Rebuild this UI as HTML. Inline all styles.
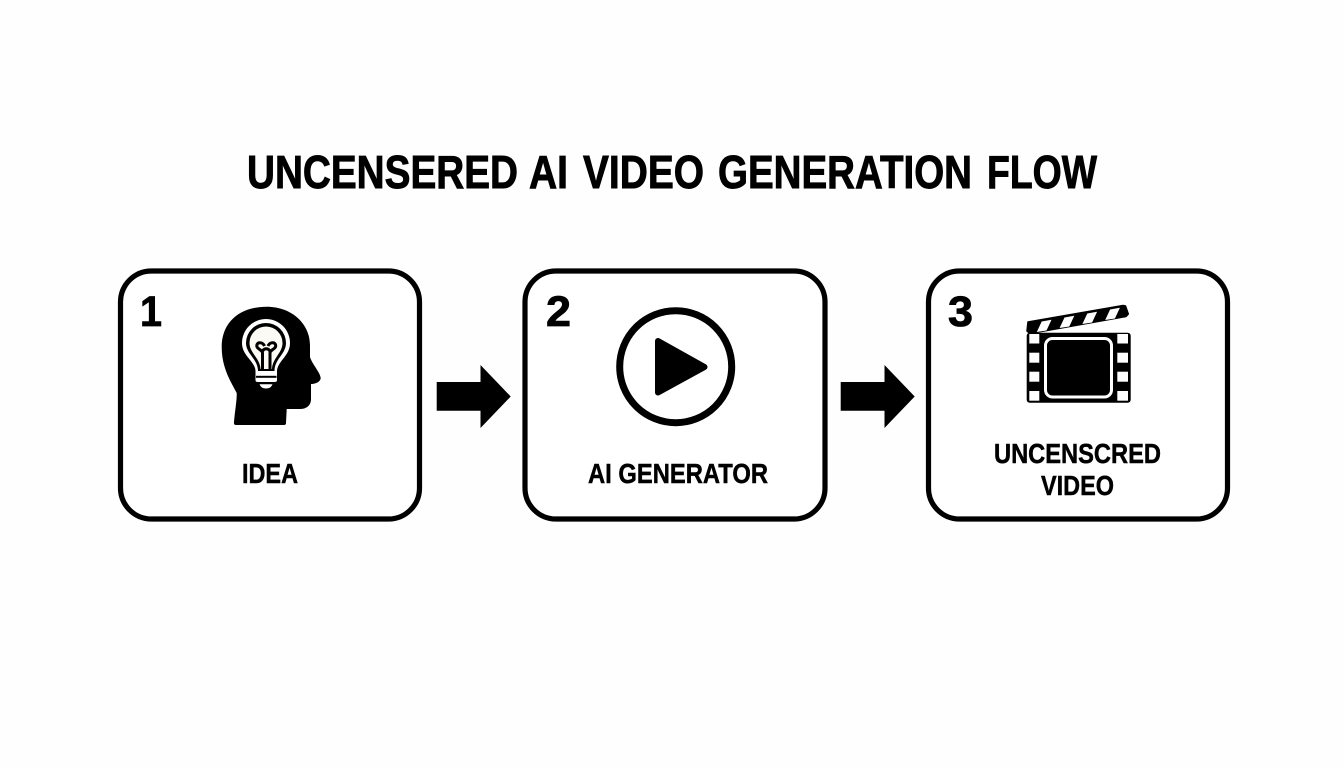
<!DOCTYPE html>
<html lang="en">
<head>
<meta charset="utf-8">
<title>Uncensered AI Video Generation Flow</title>
<style>
html,body{margin:0;padding:0;background:#fefefe;width:1344px;height:768px;overflow:hidden}
svg{display:block}
text{font-family:"Liberation Sans",sans-serif;font-weight:700;fill:#000}
</style>
</head>
<body>
<svg width="1344" height="768" viewBox="0 0 1344 768" xmlns="http://www.w3.org/2000/svg">
<rect width="1344" height="768" fill="#fefefe"/>

<g font-size="46" stroke="#000" stroke-width=".9">
<text x="247" y="188" textLength="271" lengthAdjust="spacingAndGlyphs">UNCENSERED</text>
<text x="529" y="188" textLength="39" lengthAdjust="spacingAndGlyphs">AI</text>
<text x="583" y="188" textLength="121" lengthAdjust="spacingAndGlyphs">VIDEO</text>
<text x="718" y="188" textLength="254" lengthAdjust="spacingAndGlyphs">GENERATION</text>
<text x="987" y="188" textLength="110" lengthAdjust="spacingAndGlyphs">FLOW</text>
</g>

<!-- boxes -->
<rect x="120.5" y="271" width="299" height="248" rx="31" fill="#fff" stroke="#000" stroke-width="5.2"/>
<rect x="525" y="271" width="300" height="248" rx="31" fill="#fff" stroke="#000" stroke-width="5.2"/>
<rect x="928.5" y="271" width="299" height="248" rx="31" fill="#fff" stroke="#000" stroke-width="5.2"/>

<!-- numbers -->
<text x="140" y="326" font-size="43" textLength="22" lengthAdjust="spacingAndGlyphs" stroke="#000" stroke-width=".8">1</text>
<text x="546" y="326" font-size="43" textLength="25" lengthAdjust="spacingAndGlyphs" stroke="#000" stroke-width=".8">2</text>
<text x="948" y="326" font-size="43" textLength="25" lengthAdjust="spacingAndGlyphs" stroke="#000" stroke-width=".8">3</text>

<!-- arrows -->
<polygon points="436.7,382 480.5,382 480.5,365 510.7,396.5 480.5,428 480.5,410.7 436.7,410.7" fill="#000"/>
<polygon points="840.7,382 884.5,382 884.5,365 914.7,396.5 884.5,428 884.5,410.7 840.7,410.7" fill="#000"/>

<!-- head -->
<path d="M234,422 C235,410 237,400 236.7,393 C231,382 221.7,368 221.7,347 C221.7,322 240,306.7 266.7,306.7 C292,306.7 310,324 310,345 L310,357 C312,364 320,372 320.7,378 C320.5,382 315,384 311,384 L311,400 C310.5,406 306,409 300,409 L286.7,409 L286,423 Q286,425 284,425 L236,425 Q233.5,425 234,422 Z" fill="#000"/>
<!-- bulb: white ring, black ring, white interior -->
<path d="M255.5,371 C255,361 242,356 242,343 A24,24 0 1 1 290,343 C290,356 277.5,361 277,371 L277,380 Q277,382 275,382 L257.5,382 Q255.5,382 255.5,380 Z" fill="#fff"/>
<path d="M258,371 C258,359 246,354 246,343 A20,20 0 1 1 286,343 C286,354 274.5,359 274.5,371 Z" fill="#000"/>
<path d="M260.5,369 C260,358 249.5,353 249.5,343 A16.5,16.5 0 1 1 282.5,343 C282.5,353 272.5,358 272,369 Z" fill="#fbfaf5"/>
<rect x="256" y="375.8" width="20.5" height="2" fill="#000"/>
<path d="M259.5,384.2 L272.5,384.2 Q271,388.5 266,388.5 Q261,388.5 259.5,384.2 Z" fill="#fff"/>
<path d="M262.5,370 V353 C262.5,349.500 255.500,349 257,344.500 C258.500,341.500 263,342.500 264.500,346 M270,370 V353 C270,349.500 277,349 275.500,344.500 C274,341.500 269.500,342.500 268,346 M262.500,351 C264.500,348 268,348 270,351" fill="none" stroke="#000" stroke-width="3"/>

<!-- play -->
<circle cx="675.7" cy="366.7" r="56" fill="#fff" stroke="#000" stroke-width="7"/>
<polygon points="658,341 704.5,367 658,392.5" fill="#000" stroke="#000" stroke-width="6" stroke-linejoin="round"/>

<!-- clapper -->
<polygon points="1028,322 1123,305.5 1125.5,306 1128.3,314 1126,316.5 1030,333.500 1027,331" fill="#000" stroke="#000" stroke-width="1.5" stroke-linejoin="round"/>
<g fill="#fff">
<polygon points="1041.7,321.5 1051.5,319.8 1046.5,330.5 1036.8,332"/>
<polygon points="1064.5,317.5 1074.3,315.8 1069.3,326.5 1059.6,328"/>
<polygon points="1087.3,313.5 1097.1,311.8 1092.1,322.5 1082.4,324"/>
<polygon points="1110.1,309.5 1119.9,307.8 1114.9,318.5 1105.2,320"/>
</g>
<rect x="1026.7" y="332.7" width="104" height="70" rx="3" fill="#000"/>
<g fill="#fff">
<rect x="1029.3" y="334" width="10" height="9.5"/>
<rect x="1029.3" y="352.7" width="10" height="10"/>
<rect x="1029.3" y="371.7" width="10" height="10"/>
<rect x="1029.3" y="391" width="10" height="9.7"/>
<rect x="1117.3" y="334" width="10.7" height="9.5"/>
<rect x="1117.3" y="352.7" width="10.7" height="10"/>
<rect x="1117.3" y="371.7" width="10.7" height="10"/>
<rect x="1117.3" y="391" width="10.7" height="9.7"/>
</g>
<rect x="1045.5" y="338.5" width="66" height="58.5" rx="7" fill="#000" stroke="#fff" stroke-width="3"/>

<!-- labels -->
<g font-size="28" stroke="#000" stroke-width=".5">
<text x="242" y="483" textLength="56" lengthAdjust="spacingAndGlyphs">IDEA</text>
<text x="588" y="483" textLength="180" lengthAdjust="spacingAndGlyphs">AI GENERATOR</text>
<text x="994" y="463" textLength="167" lengthAdjust="spacingAndGlyphs">UNCENSCRED</text>
<text x="1041" y="495" textLength="73" lengthAdjust="spacingAndGlyphs">VIDEO</text>
</g>
</svg>
</body>
</html>
